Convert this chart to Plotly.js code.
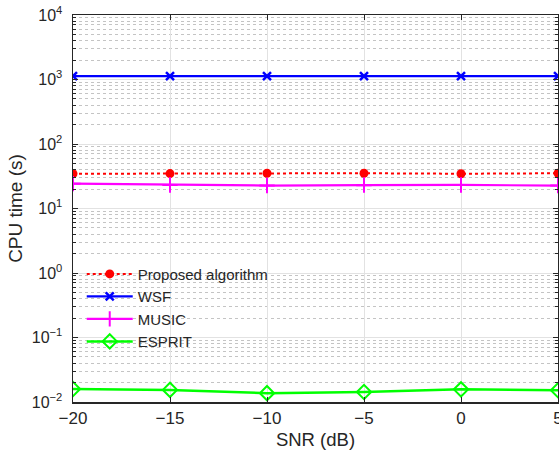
<!DOCTYPE html>
<html>
<head>
<meta charset="utf-8">
<script src="https://cdn.plot.ly/plotly-3.0.1.min.js"></script>
<style>
  html, body { margin: 0; padding: 0; background: #fff; }
  #chart { width: 559px; height: 454px; }
</style>
</head>
<body>
<div id="chart"></div>
<script>
// SNR sweep (dB)
const snr = [-20, -15, -10, -5, 0, 5];
const xTickText = ['\u221220', '\u221215', '\u221210', '\u22125', '0', '5'];

// Measured CPU time (s) per method
const proposed = [34.6, 34.8, 35.2, 35.2, 34.6, 35.2];
const wsf      = [1130, 1130, 1130, 1130, 1130, 1130];
const music    = [24.3, 23.2, 22.7, 23.0, 23.2, 22.7];
const esprit   = [0.0159, 0.0154, 0.0137, 0.0143, 0.0157, 0.0152];

const seriesNames = ['Proposed algorithm', 'WSF', 'MUSIC', 'ESPRIT'];
const yTickVals = [0.01, 0.1, 1, 10, 100, 1000, 10000];
const yTickText = ['10<sup>\u22122</sup>', '10<sup>\u22121</sup>', '10<sup>0</sup>', '10<sup>1</sup>',
                   '10<sup>2</sup>', '10<sup>3</sup>', '10<sup>4</sup>'];

// minor log grid: 2..9 within each decade
const minorVals = [];
for (let e = -2; e < 4; e++) {
  for (let m = 2; m <= 9; m++) minorVals.push(m * Math.pow(10, e));
}

const ff = 'Liberation Sans, Arial, sans-serif';
const ink = '#262626';

const traces = [
  {
    x: snr, y: proposed, name: seriesNames[0], mode: 'lines+markers',
    line: { color: '#ff0000', width: 2, dash: 'dot' },
    marker: { symbol: 'circle', size: 9, color: '#ff0000' }
  },
  {
    x: snr, y: wsf, name: seriesNames[1], mode: 'lines+markers',
    line: { color: '#0000ff', width: 2.2 },
    marker: { symbol: 'x-thin-open', size: 8, color: '#0000ff', line: { width: 2.5, color: '#0000ff' } }
  },
  {
    x: snr, y: music, name: seriesNames[2], mode: 'lines+markers',
    line: { color: '#ff00ff', width: 2.2 },
    marker: { symbol: 'cross-thin-open', size: 11, color: '#ff00ff', line: { width: 2, color: '#ff00ff' } }
  },
  {
    x: snr, y: esprit, name: seriesNames[3], mode: 'lines+markers',
    line: { color: '#00ff00', width: 2.5 },
    marker: { symbol: 'diamond-open', size: 11, color: '#00ff00', line: { width: 2, color: '#00ff00' } }
  }
];

const layout = {
  width: 559, height: 454,
  margin: { l: 73, r: 1, t: 15, b: 52 },
  paper_bgcolor: '#fff', plot_bgcolor: '#fff',
  font: { family: ff, color: ink },
  showlegend: true,
  legend: {
    x: 0.018, y: 0.373, xanchor: 'left', yanchor: 'top',
    bgcolor: 'rgba(0,0,0,0)', borderwidth: 0,
    font: { family: ff, size: 15, color: ink },
    tracegroupgap: 0, itemwidth: 46
  },
  xaxis: {
    range: [-20, 5], tickmode: 'array', tickvals: snr, ticktext: xTickText,
    ticks: 'inside', ticklen: 5, tickcolor: ink, tickwidth: 1,
    ticklabeloverflow: 'allow',
    showline: true, linecolor: ink, linewidth: 1.5, mirror: 'ticks',
    showgrid: true, gridcolor: '#e2e2e2', gridwidth: 1, zeroline: false,
    tickfont: { family: ff, size: 17, color: ink },
    title: { text: 'SNR (dB)', font: { family: ff, size: 18.5, color: ink }, standoff: 6 }
  },
  yaxis: {
    type: 'log', range: [-2, 4], tickmode: 'array', tickvals: yTickVals, ticktext: yTickText,
    ticks: 'inside', ticklen: 5, tickcolor: ink, tickwidth: 1,
    ticklabelstandoff: 6,
    showline: true, linecolor: ink, linewidth: 1.5, mirror: 'ticks',
    showgrid: true, gridcolor: '#e2e2e2', gridwidth: 1, zeroline: false,
    tickfont: { family: ff, size: 16, color: ink },
    minor: {
      tickmode: 'array', tickvals: minorVals,
      ticks: 'inside', ticklen: 3, tickcolor: ink,
      showgrid: true, gridcolor: '#c4c4c4', griddash: 'dot', gridwidth: 1
    },
    title: { text: 'CPU time (s)', font: { family: ff, size: 19, color: ink }, standoff: 4 }
  }
};

Plotly.newPlot('chart', traces, layout, { displayModeBar: false, staticPlot: true });
</script>
</body>
</html>
